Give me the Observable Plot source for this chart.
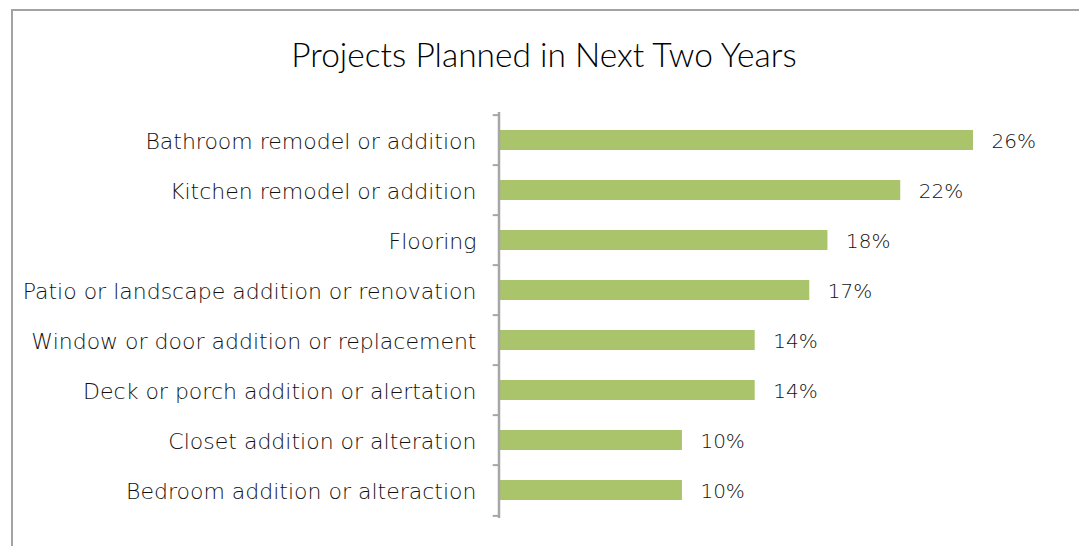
<!DOCTYPE html>
<html>
<head>
<meta charset="utf-8">
<script src="https://cdn.jsdelivr.net/npm/d3@7"></script>
<script src="https://cdn.jsdelivr.net/npm/@observablehq/plot@0.6"></script>
<style>
  html, body { margin: 0; padding: 0; background: #fff; }
  #wrap { position: relative; width: 1079px; height: 546px; overflow: hidden; font-family: "DejaVu Sans", sans-serif; }
  #frame { position: absolute; left: 11px; top: 9px; width: 1100px; height: 600px; border-left: 2px solid #a3a3a3; border-top: 2px solid #a3a3a3; box-sizing: border-box; }
  #title { position: absolute; left: 0; width: 1088px; top: 34px; text-align: center; font-family: Lato, sans-serif; font-size: 33.5px; font-weight: 300; color: #000; margin: 0; line-height: 1.2; }
  #chart { position: absolute; left: 0; top: 0; }
</style>
</head>
<body>
<div id="wrap">
  <div id="frame"></div>
  <h2 id="title">Projects Planned in Next Two Years</h2>
  <div id="chart"></div>
</div>
<script>
const categories = [
  "Bathroom remodel or addition",
  "Kitchen remodel or addition",
  "Flooring",
  "Patio or landscape addition or renovation",
  "Window or door addition or replacement",
  "Deck or porch addition or alertation",
  "Closet addition or alteration",
  "Bedroom addition or alteraction"
];
const values = [26, 22, 18, 17, 14, 14, 10, 10];
const valueLabels = ["26%", "22%", "18%", "17%", "14%", "14%", "10%", "10%"];

const data = categories.map((c, i) => ({category: c, value: values[i], label: valueLabels[i]}));

const marginTop = 112, height = 546, marginBottom = 28;
const step = (height - marginTop - marginBottom) / categories.length;

const plot = Plot.plot({
  width: 1079,
  height,
  marginLeft: 500,
  marginRight: 106,
  marginTop,
  marginBottom,
  style: {fontFamily: "'DejaVu Sans', sans-serif", background: "transparent", overflow: "visible"},
  x: {domain: [0, 26], axis: null},
  y: {domain: categories, paddingInner: 0.6, paddingOuter: 0.3, label: null},
  marks: [
    Plot.barX(data, {x: "value", y: "category", fill: "#aac46b"}),
    Plot.text(data, {x: "value", y: "category", text: "label", textAnchor: "start", dx: 18, dy: 1, fontSize: 20, fontWeight: 200, fill: "#111"}),
    Plot.axisY({tickSize: 0, tickPadding: 24, fontSize: 22, fontWeight: 200, fill: "#111", dy: 1, label: null}),
    Plot.ruleY(categories, {y: d => d, x1: -0.4, x2: -0.05, dy: -step / 2, stroke: "#a6a6a6", strokeWidth: 2}),
    Plot.ruleY([categories[categories.length - 1]], {y: d => d, x1: -0.4, x2: -0.05, dy: step / 2, stroke: "#a6a6a6", strokeWidth: 2}),
    Plot.ruleX([0], {dx: -1.5, stroke: "#a6a6a6", strokeWidth: 2.5})
  ]
});
document.getElementById("chart").appendChild(plot);
</script>
</body>
</html>
